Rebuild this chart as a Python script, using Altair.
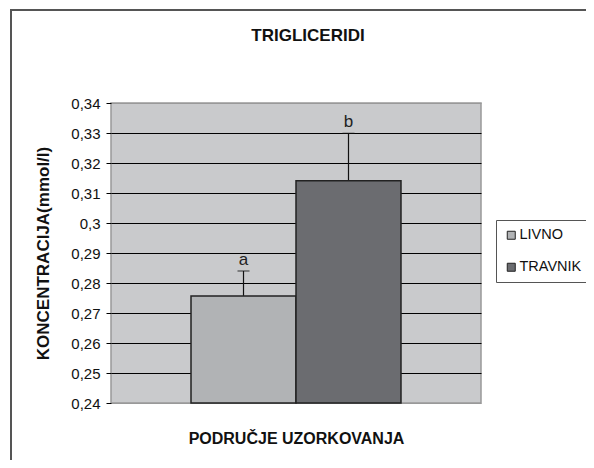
import altair as alt
import pandas as pd

chart_title = "TRIGLICERIDI"
series = ["LIVNO", "TRAVNIK"]
values = [0.2757, 0.3141]
errors = [0.0083, 0.0158]
letters = ["a", "b"]
colors = ["#b1b3b5", "#6b6c70"]
y_ticks = [0.24, 0.25, 0.26, 0.27, 0.28, 0.29, 0.30, 0.31, 0.32, 0.33, 0.34]

df = pd.DataFrame({
    "grp": ["PODRUČJE UZORKOVANJA"] * 2,
    "series": series,
    "value": values,
    "upper": [v + e for v, e in zip(values, errors)],
    "letter": letters,
})
title_df = pd.DataFrame({"t": [chart_title]})

FONT = "Liberation Sans"

x_enc = alt.X("grp:N", title="PODRUČJE UZORKOVANJA",
              scale=alt.Scale(paddingInner=0, paddingOuter=0.381),
              axis=alt.Axis(labels=False, ticks=False, domain=False,
                            titleFont=FONT, titleFontSize=16, titleFontWeight="bold",
                            titleColor="#111", titlePadding=27))
xo_enc = alt.XOffset("series:N", scale=alt.Scale(paddingInner=0, paddingOuter=0))
color_enc = alt.Color("series:N", scale=alt.Scale(domain=series, range=colors),
                      legend=alt.Legend(title=None, orient="none", legendX=385, legendY=117,
                                        symbolType="square", symbolSize=64,
                                        symbolStrokeColor="#222", symbolStrokeWidth=1,
                                        labelFont=FONT, labelFontSize=14.5, labelColor="#111",
                                        labelOffset=1, rowPadding=17, padding=8,
                                        strokeColor="#555", fillColor="white", labelLimit=200))

y_scale = alt.Scale(domain=[0.24, 0.34], nice=False, zero=False)
y_axis = alt.Axis(title="KONCENTRACIJA(mmol/l)", values=y_ticks,
                  labelExpr="replace(format(datum.value, '.2~f'), '.', ',')",
                  labelOverlap=False, labelFont=FONT, labelFontSize=15, labelColor="#111",
                  labelPadding=6, tickColor="#000", tickSize=5, domain=False,
                  gridColor={"condition": {"test": "datum.value > 0.3395 || datum.value < 0.2405", "value": "#999"}, "value": "#000"},
                  gridWidth=1, gridOpacity=1,
                  titleFont=FONT, titleFontSize=17, titleFontWeight="bold", titleColor="#111",
                  titleX=-68, titleY=150, titleAngle=-90, titleBaseline="middle", titleAlign="center")

base = alt.Chart(df)

frame = base.mark_rect(fillOpacity=0, stroke="#555", strokeWidth=2).encode(
    x=alt.value(-100), x2=alt.value(600), y=alt.value(-93), y2=alt.value(500))

title_mark = alt.Chart(title_df).mark_text(
    font=FONT, fontSize=17, fontWeight="bold", color="#111", baseline="middle", align="center"
).encode(x=alt.value(197), y=alt.value(-67), text="t:N")

err = base.mark_rule(color="#111", strokeWidth=1.2).encode(
    x=x_enc, xOffset=xo_enc,
    y=alt.Y("value:Q", scale=y_scale, axis=y_axis), y2="upper:Q")
cap = base.mark_tick(color="#111", size=12, thickness=1.2).encode(
    x=x_enc, xOffset=xo_enc, y=alt.Y("upper:Q", scale=y_scale, axis=y_axis))
bars = base.mark_bar(stroke="#222", strokeWidth=1.5, opacity=1).encode(
    x=x_enc, xOffset=xo_enc,
    y=alt.Y("value:Q", scale=y_scale, axis=y_axis), y2=alt.datum(0.24),
    color=color_enc)
txt = base.mark_text(font=FONT, fontSize=17, color="#222", baseline="bottom", dy=-2).encode(
    x=x_enc, xOffset=xo_enc, y=alt.Y("upper:Q", scale=y_scale, axis=y_axis), text="letter:N")

chart = alt.layer(frame, title_mark, err, cap, bars, txt).properties(
    width=370, height=300,
    autosize=alt.AutoSizeParams(type="none"),
    padding={"left": 103, "top": 95, "right": 105, "bottom": 57},
).configure_view(fill="#c9cacc", stroke="#999", strokeWidth=1.5
).configure_axisY(labelFontSize=15, labelOverlap=False)

chart.save("out.html", embed_options={"renderer": "svg", "actions": False})
